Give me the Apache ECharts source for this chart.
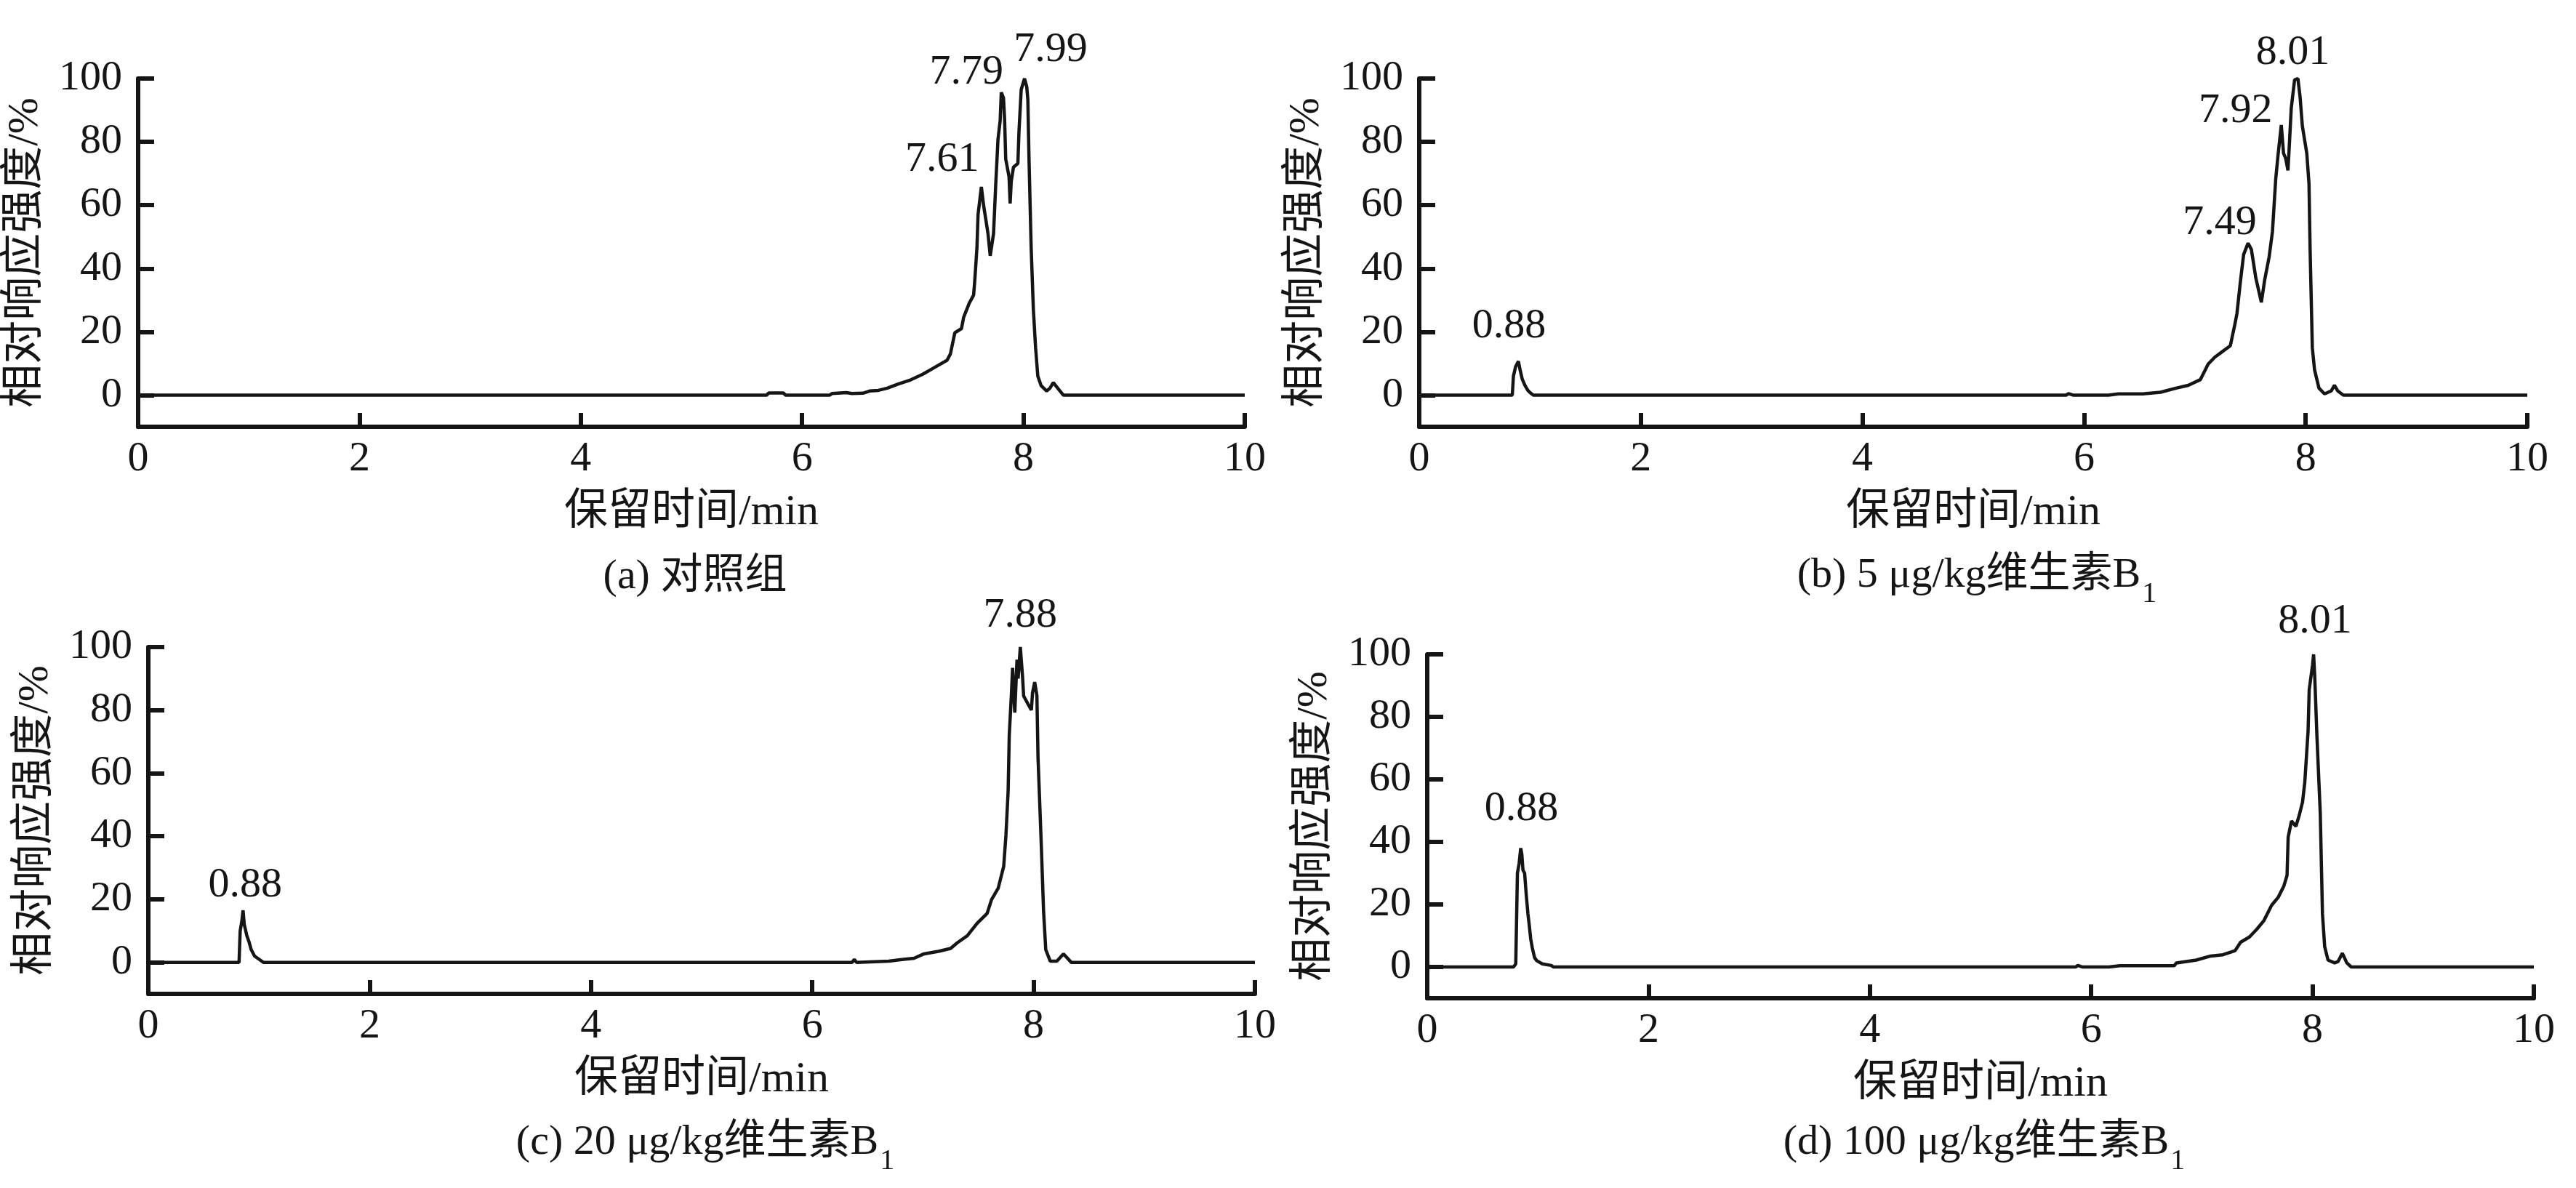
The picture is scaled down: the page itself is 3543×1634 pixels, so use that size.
<!DOCTYPE html>
<html>
<head>
<meta charset="utf-8">
<title>色谱图</title>
<script src="https://cdn.jsdelivr.net/npm/echarts@6.0.0/dist/echarts.min.js"></script>
<style>
html,body{margin:0;padding:0;background:#fff;}
#chart{width:3543px;height:1634px;}
</style>
</head>
<body>
<div id="chart"></div>
<script>
// (a) 对照组 保留时间/min 与 相对响应强度/%
var timeA = [0,5.68,5.70,5.83,5.85,6.25,6.27,6.40,6.45,6.55,6.61,6.69,6.77,6.87,6.98,7.09,7.20,7.31,7.34,7.38,7.44,7.46,7.51,7.55,7.56,7.58,7.59,7.62,7.64,7.68,7.70,7.73,7.75,7.77,7.79,7.80,7.82,7.83,7.84,7.87,7.88,7.89,7.91,7.95,7.96,7.98,8.01,8.03,8.04,8.05,8.07,8.09,8.11,8.13,8.16,8.21,8.24,8.27,8.31,8.36,10];
var valueA = [0,0,0.7,0.7,0,0,0.5,0.8,0.5,0.6,1.3,1.5,2.2,3.5,4.8,6.6,8.8,11,13,19.7,21,24.6,29,31.6,36,46.5,57,65.8,60,51,44,51,66.7,80.7,86.8,95.6,93.9,87,74.6,69,60.5,67.5,72,73.2,83.3,96.5,100,97.4,93.4,75.4,46.5,27,15,6,3,1.3,2.2,4,2.2,0,0];

// (b) 5 μg/kg
var timeB = [0,0.84,0.85,0.87,0.895,0.91,0.93,0.955,0.98,1.00,1.03,5.84,5.86,5.90,6.22,6.31,6.53,6.69,6.83,6.94,7.05,7.12,7.18,7.25,7.32,7.36,7.38,7.41,7.44,7.48,7.51,7.55,7.60,7.63,7.67,7.70,7.73,7.75,7.78,7.80,7.82,7.84,7.85,7.87,7.90,7.93,7.95,7.97,8.01,8.03,8.04,8.06,8.08,8.12,8.17,8.23,8.26,8.29,8.34,10];
var valueB = [0,0,6,9,10.7,8,5,3,1.5,0.8,0,0,0.5,0,0,0.4,0.4,0.9,2.2,3.1,4.9,9.8,12,13.8,15.6,22.2,25.8,35.6,44.4,48,46,37,29.3,36.4,43.6,51.6,68.4,75.6,85.3,76.4,74.7,71,77.3,90.7,99.6,100,94,85,76.4,66.7,46,15,8,2.2,0.4,1.3,3.1,1.3,0,0];

// (c) 20 μg/kg
var timeC = [0,0.82,0.83,0.845,0.856,0.867,0.89,0.91,0.93,0.96,1.02,1.04,6.36,6.38,6.40,6.69,6.81,6.92,7.01,7.14,7.25,7.31,7.40,7.49,7.58,7.62,7.68,7.73,7.75,7.77,7.78,7.80,7.81,7.83,7.85,7.86,7.88,7.90,7.91,7.95,7.98,7.99,8.01,8.03,8.04,8.07,8.09,8.11,8.15,8.21,8.27,8.34,10];
var valueC = [0,0,10,13,16.5,12,8.5,6.5,4,2,0.5,0,0,0.9,0,0.4,0.9,1.3,2.7,3.5,4.4,6.2,8.4,12.4,15.5,19.9,23.5,30.5,40.3,54.4,72,85.4,93.4,79.2,96,90,100,90.7,84.5,81.9,80,85.4,88.9,84.5,65,36.7,16.4,4,0.4,0.4,2.7,0,0];

// (d) 100 μg/kg
var timeD = [0,0.78,0.80,0.815,0.83,0.845,0.855,0.865,0.88,0.895,0.91,0.92,0.935,0.95,0.97,0.99,1.04,1.12,1.14,5.86,5.88,5.92,6.16,6.26,6.75,6.77,6.95,7.08,7.19,7.30,7.35,7.43,7.50,7.56,7.63,7.69,7.74,7.77,7.78,7.81,7.85,7.88,7.91,7.93,7.96,7.97,8.00,8.01,8.02,8.04,8.07,8.09,8.11,8.14,8.20,8.23,8.27,8.31,8.35,10];
var valueD = [0,0,1,30,33,38,36,31,30,23,17,14,9,6,3,2,1,0.5,0,0,0.5,0,0,0.4,0.4,1.3,2.2,3.5,3.9,5.2,7.9,9.6,12.2,14.8,19.7,22.3,25.8,29.3,41.5,46.7,45,48.5,52.8,59,75.5,88.6,96.5,100,93,73.8,49.3,17,6.5,2.2,1.3,1.7,4.4,1.3,0,0];

// 峰标注
var peakNamesA = ['7.61','7.79','7.99'];
var peakTimesA = [7.62,7.80,8.01];
var peakValuesA = [65.8,95.6,100];
var peakNamesB = ['0.88','7.49','7.92','8.01'];
var peakTimesB = [0.895,7.48,7.78,7.93];
var peakValuesB = [10.7,48,85.3,100];
var peakNamesC = ['0.88','7.88'];
var peakTimesC = [0.856,7.88];
var peakValuesC = [16.5,100];
var peakNamesD = ['0.88','8.01'];
var peakTimesD = [0.845,8.01];
var peakValuesD = [38,100];

var yTicks = [0,20,40,60,80,100];
var captions = ['(a) 对照组','(b) 5 μg/kg维生素B{sub|1}','(c) 20 μg/kg维生素B{sub|1}','(d) 100 μg/kg维生素B{sub|1}'];
var xName = '保留时间/min';
var yName = '相对响应强度/%';

var FONT = '"Liberation Serif", "Noto Sans CJK SC", serif';
var INK = '#151515';

var panels = [
    {t:timeA, v:valueA, names:peakNamesA, pt:peakTimesA, pv:peakValuesA,
     grid:{left:190, top:108, width:1522, height:479}, capTop:760,
     offsets:[[-54,-37],[-48,-27],[36,-39]]},
    {t:timeB, v:valueB, names:peakNamesB, pt:peakTimesB, pv:peakValuesB,
     grid:{left:1952, top:108, width:1524, height:479}, capTop:742,
     offsets:[[-13,-48],[-39,-28],[-63,-19],[-7,-35]]},
    {t:timeC, v:valueC, names:peakNamesC, pt:peakTimesC, pv:peakValuesC,
     grid:{left:204, top:890, width:1522, height:477}, capTop:1522,
     offsets:[[3,-34],[0,-43]]},
    {t:timeD, v:valueD, names:peakNamesD, pt:peakTimesD, pv:peakValuesD,
     grid:{left:1963, top:900, width:1522, height:473}, capTop:1522,
     offsets:[[1,-54],[2,-45]]}
];

var option = {
    backgroundColor:'#fff',
    animation:false,
    grid:[], xAxis:[], yAxis:[], series:[], title:[]
};

panels.forEach(function (p, i) {
    option.grid.push(p.grid);
    option.xAxis.push({
        type:'value', gridIndex:i, min:0, max:10, interval:2,
        name:xName, nameLocation:'middle', nameGap:88,
        nameTextStyle:{fontSize:60, fontFamily:FONT, color:INK},
        axisLine:{onZero:false, lineStyle:{color:INK, width:6}},
        axisTick:{inside:true, length:19, lineStyle:{color:INK, width:6}},
        axisLabel:{margin:16, fontSize:58, fontFamily:FONT, color:INK},
        splitLine:{show:false}
    });
    option.yAxis.push({
        type:'value', gridIndex:i, min:-10, max:100,
        name:yName, nameLocation:'middle', nameGap:125,
        nameTextStyle:{fontSize:60, fontFamily:FONT, color:INK},
        axisLine:{show:true, onZero:false, lineStyle:{color:INK, width:6}},
        axisTick:{show:true, inside:true, length:22, customValues:yTicks, lineStyle:{color:INK, width:6}},
        axisLabel:{margin:22, fontSize:58, fontFamily:FONT, color:INK, customValues:yTicks},
        splitLine:{show:false}
    });
    var pts = p.t.map(function (x, k) { return [x, p.v[k]]; });
    var marks = p.names.map(function (n, k) {
        return {name:n, coord:[p.pt[k], p.pv[k]], label:{offset:p.offsets[k]}};
    });
    option.series.push({
        type:'line', xAxisIndex:i, yAxisIndex:i, data:pts,
        symbol:'none', showSymbol:false,
        lineStyle:{color:INK, width:4.5},
        markPoint:{
            symbol:'circle', symbolSize:0, silent:true,
            label:{show:true, position:'inside', formatter:'{b}', fontSize:58, fontFamily:FONT, color:INK},
            data:marks
        }
    });
    option.title.push({
        text:captions[i],
        left:p.grid.left + p.grid.width / 2, top:p.capTop, textAlign:'center',
        textStyle:{fontSize:58, fontWeight:'normal', fontFamily:FONT, color:INK,
            rich:{sub:{fontSize:40, fontFamily:FONT, color:INK, verticalAlign:'bottom', padding:[50,0,0,2]}}}
    });
});

var myChart = echarts.init(document.getElementById('chart'));
myChart.setOption(option);
</script>
</body>
</html>
